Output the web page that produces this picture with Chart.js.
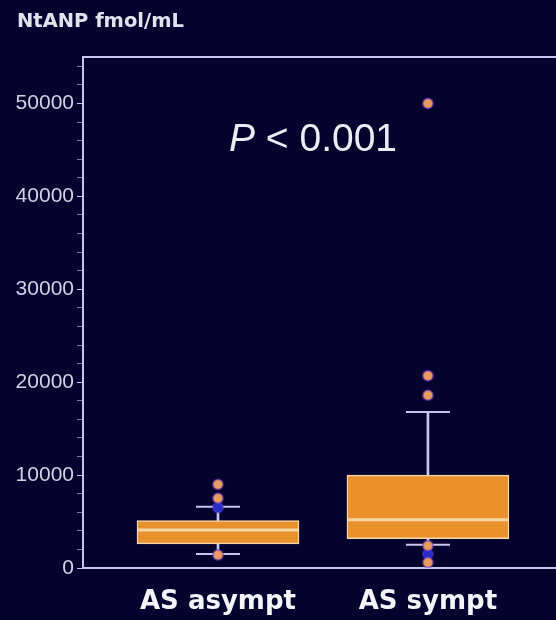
<!DOCTYPE html>
<html>
<head>
<meta charset="utf-8">
<script src="https://cdn.jsdelivr.net/npm/chart.js@4.4.0/dist/chart.umd.min.js"></script>
<style>
  html, body { margin: 0; padding: 0; background: #06022e; overflow: hidden; }
  #wrap { position: relative; width: 556px; height: 620px; }
  #unit { position: absolute; left: 17px; top: 9px; color: #e2e2ee; font: bold 19.5px "DejaVu Sans", sans-serif; }
  #pval { position: absolute; left: 229px; top: 116px; color: #ececf4; font: 39px "Liberation Sans", Arial, sans-serif; }
</style>
</head>
<body>
<div id="wrap">
  <canvas id="mycanvas" width="556" height="620"></canvas>
  <div id="unit">NtANP fmol/mL</div>
  <div id="pval"><i>P</i> &lt; 0.001</div>
</div>
<script>
// groups and box-plot statistics
var groups = ["AS asympt", "AS sympt"];
var q1 = [2600, 3150];
var median = [4100, 5200];
var q3 = [5100, 10000];
var whiskerLow = [1500, 2500];
var whiskerHigh = [6600, 16800];
// outliers: [group index, value]
var outliers = [[0, 9000], [0, 7500], [0, 1400], [1, 50000], [1, 20700], [1, 18600], [1, 2400], [1, 600]];
var hidden = [[0, 6500], [1, 1500]];
var yTicks = [0, 10000, 20000, 30000, 40000, 50000];

var lav = "#c9c6ee";
var cream = "#f6d7a6";

var boxes = [], upper = [], lower = [], caps = [], meds = [], outl = [], blue = [];
for (var i in groups) {
  var x = +i + 1;
  boxes.push({x: x, y: [q1[i], q3[i]]});
  upper.push({x: x, y: [q3[i], whiskerHigh[i]]});
  lower.push({x: x, y: [whiskerLow[i], q1[i]]});
  caps.push({x: x, y: whiskerHigh[i]});
  caps.push({x: x, y: whiskerLow[i]});
  meds.push({x: x, y: median[i]});
}
outliers.forEach(function(o){ outl.push({x: o[0] + 1, y: o[1]}); });
hidden.forEach(function(o){ blue.push({x: o[0] + 1, y: o[1]}); });

var frame = {
  id: "frame",
  afterDraw: function(chart) {
    var a = chart.chartArea, c = chart.ctx;
    c.save();
    c.strokeStyle = lav;
    c.lineWidth = 2;
    c.beginPath();
    c.moveTo(a.left, a.top);
    c.lineTo(a.right, a.top);
    c.stroke();
    c.restore();
  }
};

var ctx = document.getElementById("mycanvas");
new Chart(ctx, {
  type: "bar",
  data: {
    datasets: [
      { data: boxes, backgroundColor: "#e8912d", borderColor: cream, borderWidth: 1.5, borderSkipped: false, barThickness: 162, grouped: false, order: 2 },
      { data: upper, backgroundColor: lav, barThickness: 2, grouped: false, order: 3 },
      { data: lower, backgroundColor: lav, barThickness: 2, grouped: false, order: 3 },
      { type: "scatter", data: caps, pointStyle: "line", pointRadius: 22, pointHoverRadius: 22, borderColor: lav, borderWidth: 2, order: 3 },
      { type: "scatter", data: meds, pointStyle: "line", pointRadius: 80, pointHoverRadius: 80, borderColor: cream, borderWidth: 3, order: 1 },
      { type: "scatter", data: blue, pointRadius: 5, backgroundColor: "#2a2cc8", borderColor: "rgba(80,60,220,0.5)", borderWidth: 2, order: 1 },
      { type: "scatter", data: outl, pointRadius: 5, backgroundColor: "#ea9c5c", borderColor: "rgba(110,60,200,0.55)", borderWidth: 2, order: 0 }
    ]
  },
  options: {
    responsive: false,
    animation: false,
    layout: { autoPadding: false, padding: { top: 57, left: 0, right: 0, bottom: 0 } },
    plugins: { legend: { display: false }, tooltip: { enabled: false } },
    scales: {
      x: {
        type: "linear",
        offset: false,
        min: 0.357,
        max: 2.61,
        afterBuildTicks: function(s) { s.ticks = groups.map(function(g, i){ return {value: i + 1}; }); },
        afterFit: function(s) { s.height = 52; },
        ticks: {
          autoSkip: false,
          maxRotation: 0,
          padding: 19,
          color: "#f4f4fa",
          font: { family: "DejaVu Sans", size: 26, weight: "bold" },
          callback: function(v) { return groups[v - 1]; }
        },
        grid: { drawOnChartArea: false, drawTicks: false, offset: false },
        border: { color: lav, width: 2 }
      },
      y: {
        min: 0,
        max: 55000,
        afterBuildTicks: function(s) {
          var t = [];
          for (var v = 0; v <= 54000; v += 2000) t.push({value: v});
          s.ticks = t;
        },
        afterFit: function(s) { s.width = 83; },
        ticks: {
          autoSkip: false,
          padding: 3,
          color: "#d2d0e6",
          font: { family: "Liberation Sans", size: 21 },
          callback: function(v) { return yTicks.indexOf(v) >= 0 ? v : ""; }
        },
        grid: {
          drawOnChartArea: false,
          tickLength: 6,
          tickColor: function(c) { return yTicks.indexOf(c.tick.value) >= 0 ? lav : "rgba(201,198,238,0.6)"; }
        },
        border: { color: lav, width: 2 }
      }
    }
  },
  plugins: [frame]
});
</script>
</body>
</html>
